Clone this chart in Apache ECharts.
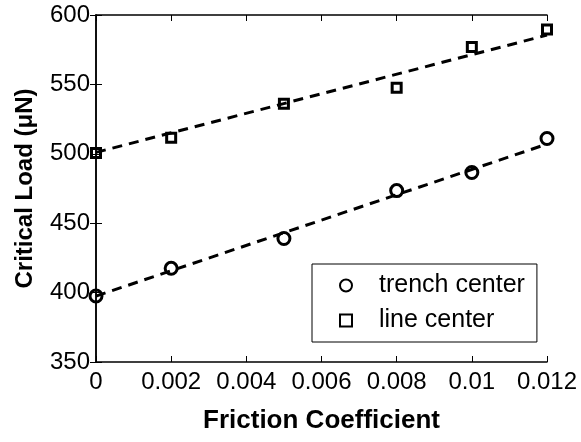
<!DOCTYPE html>
<html>
<head>
<meta charset="utf-8">
<script src="https://cdn.jsdelivr.net/npm/echarts@6/dist/echarts.min.js"></script>
<style>
  html, body { margin: 0; padding: 0; background: #fff; }
  #main { width: 581px; height: 442px; }
</style>
</head>
<body>
<div id="main"></div>
<script>
var friction = [0, 0.002, 0.005, 0.008, 0.01, 0.012];
var trenchLoad = [397.5, 417.5, 439, 473.5, 486.5, 511];
var lineLoad = [500.5, 511.5, 536, 547.5, 577, 589.5];
// dashed fit lines, ends
var fitX = [0, 0.012];
var trenchFit = [397.5, 507];
var lineFit = [501, 585.5];

var font = 'Liberation Sans, Arial, Helvetica, sans-serif';

function pairs(xs, ys) {
    return xs.map(function (x, i) { return [x, ys[i]]; });
}

var chart = echarts.init(document.getElementById('main'));
var option = {
    backgroundColor: '#fff',
    animation: false,
    textStyle: { fontFamily: font, color: '#000' },
    grid: { left: 96, right: 34, top: 15, bottom: 80 },
    legend: {
        data: ['trench center', 'line center'],
        orient: 'vertical',
        left: 312,
        top: 264,
        padding: [9, 12, 9, 27],
        itemGap: 10,
        itemWidth: 12,
        itemHeight: 12,
        borderColor: '#000',
        borderWidth: 1,
        backgroundColor: '#fff',
        textStyle: { fontFamily: font, fontSize: 25, color: '#000', padding: [0, 0, 0, 22] }
    },
    xAxis: [{
        type: 'value', min: 0, max: 0.012, interval: 0.002,
        name: 'Friction Coefficient', nameLocation: 'middle', nameGap: 46,
        nameTextStyle: { fontFamily: font, fontSize: 26, fontWeight: 'bold', color: '#000' },
        axisLine: { lineStyle: { color: '#000', width: 1.5 } },
        axisTick: { inside: true, length: 6, lineStyle: { color: '#000' } },
        axisLabel: { fontFamily: font, fontSize: 24, color: '#000', margin: 8 },
        splitLine: { show: false }
    }, {
        type: 'value', position: 'top', min: 0, max: 0.012, interval: 0.002,
        axisLine: { lineStyle: { color: '#000', width: 1.5 } },
        axisTick: { inside: true, length: 6, lineStyle: { color: '#000' } },
        axisLabel: { show: false },
        splitLine: { show: false }
    }],
    yAxis: [{
        type: 'value', min: 350, max: 600, interval: 50,
        name: 'Critical Load (μN)', nameLocation: 'middle', nameGap: 59,
        nameTextStyle: { fontFamily: font, fontSize: 24, fontWeight: 'bold', color: '#000' },
        axisLine: { lineStyle: { color: '#000', width: 1.5 } },
        axisTick: { inside: true, length: 6, lineStyle: { color: '#000' } },
        axisLabel: { fontFamily: font, fontSize: 24, color: '#000', margin: 6 },
        splitLine: { show: false }
    }, {
        type: 'value', position: 'right', min: 350, max: 600, interval: 50,
        axisLine: { lineStyle: { color: '#000', width: 1.5 } },
        axisTick: { inside: true, length: 6, lineStyle: { color: '#000' } },
        axisLabel: { show: false },
        splitLine: { show: false }
    }],
    series: [
        {
            name: 'trench fit', type: 'line', data: pairs(fitX, trenchFit),
            showSymbol: false, silent: true,
            lineStyle: { color: '#000', width: 3, type: [10, 7] }
        },
        {
            name: 'line fit', type: 'line', data: pairs(fitX, lineFit),
            showSymbol: false, silent: true,
            lineStyle: { color: '#000', width: 3, type: [10, 7] }
        },
        {
            name: 'trench center', type: 'scatter', data: pairs(friction, trenchLoad),
            symbol: 'circle', symbolSize: 12,
            itemStyle: { color: 'transparent', borderColor: '#000', borderWidth: 3, opacity: 1 }
        },
        {
            name: 'line center', type: 'scatter', data: pairs(friction, lineLoad),
            symbol: 'rect', symbolSize: 9,
            itemStyle: { color: 'transparent', borderColor: '#000', borderWidth: 3, opacity: 1 }
        }
    ]
};
chart.setOption(option);
</script>
</body>
</html>
